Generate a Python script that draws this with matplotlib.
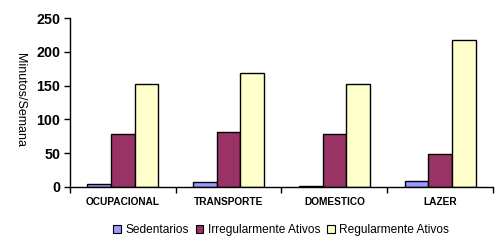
import matplotlib
matplotlib.use("Agg")
import matplotlib.pyplot as plt
import numpy as np

categories = ["OCUPACIONAL", "TRANSPORTE", "DOMESTICO", "LAZER"]
sedentarios = [4, 7, 2, 9]
irregular = [78, 81, 78, 49]
regular = [153, 169, 152, 218]
series_names = ["Sedentarios", "Irregularmente Ativos", "Regularmente Ativos"]
colors = ["#9999FF", "#993366", "#FFFFCC"]
yticks = [0, 50, 100, 150, 200, 250]

plt.rcParams['font.family'] = ['Liberation Sans', 'DejaVu Sans']

fig = plt.figure(figsize=(5.02, 2.52), dpi=100)
ax = fig.add_axes([70/502, 1-187/252, (493-70)/502, (187-18)/252])

x = np.arange(len(categories))
w = 0.224
for i, (vals, name, c) in enumerate(zip([sedentarios, irregular, regular], series_names, colors)):
    ax.bar(x + (i-1)*w, vals, w, color=c, edgecolor="black", linewidth=1.0, label=name)

ax.set_xlim(-0.5, len(categories)-0.5)
ax.set_ylim(0, 250)
ax.set_yticks(yticks)
ax.set_yticklabels([str(t) for t in yticks], fontsize=10.3, fontweight="bold")
ax.set_xticks(x)
ax.set_xticklabels(categories, fontsize=7.3, fontweight="bold")
ax.tick_params(axis="x", which="major", length=0, pad=7)
ax.set_xticks(np.arange(-0.5, len(categories)), minor=True)
ax.tick_params(axis="x", which="minor", length=4, direction="out", width=1)
ax.tick_params(axis="y", length=4, width=1, direction="out", pad=3)
for s in ["top", "right"]:
    ax.spines[s].set_visible(False)
for s in ["left", "bottom"]:
    ax.spines[s].set_linewidth(1.0)

fig.text(20/502, 1-100/252, "Minutos/Semana", rotation=-90, fontsize=9,
         ha="center", va="center")

leg = fig.legend(loc="center", bbox_to_anchor=(281/502, 1-230/252), ncol=3,
                 frameon=False, fontsize=8.6, handlelength=0.65, handleheight=0.65,
                 handletextpad=0.35, columnspacing=0.6)
for p in leg.get_patches():
    p.set_linewidth(0.8)

fig.savefig("out.png", dpi=100)
